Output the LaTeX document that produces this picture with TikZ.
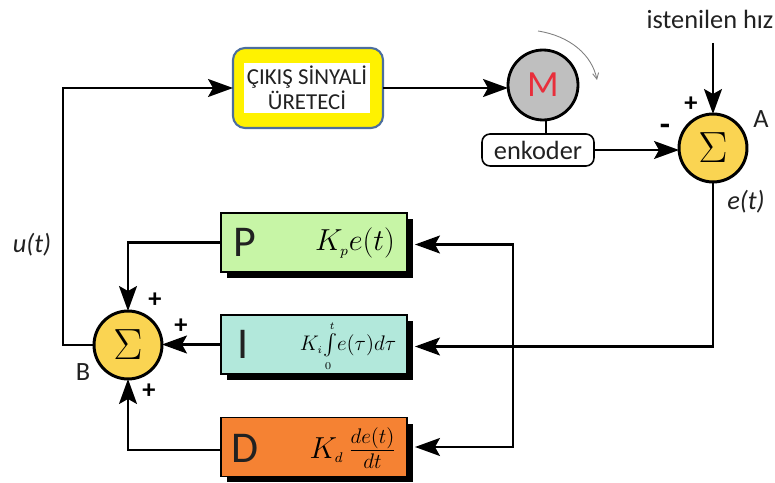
\documentclass[tikz,border=0pt]{standalone}
\usepackage{fontspec}
\setmainfont{Carlito}
\usepackage{amsmath}
\usetikzlibrary{arrows.meta,shadows}
\definecolor{SumClr}{rgb}{0.98,0.83,0.32}
\definecolor{MotorClr}{rgb}{0.75,0.75,0.75}
\definecolor{RedClr}{rgb}{0.91,0.18,0.23}
\definecolor{FrameClr}{rgb}{0.30,0.43,0.62}
\definecolor{PClr}{rgb}{0.78,0.96,0.65}
\definecolor{IClr}{rgb}{0.70,0.91,0.86}
\definecolor{DClr}{rgb}{0.96,0.51,0.20}
\definecolor{TextClr}{rgb}{0.13,0.13,0.13}
\newcommand{\Fs}[1]{\fontsize{#1}{#1}\selectfont}
\tikzset{
  wire/.style={line width=1.2pt,-{Stealth[length=0.5cm,width=0.36cm,inset=0.1cm]}},
  sumnode/.style={circle,draw=black,line width=1.7pt,fill=SumClr,minimum size=1.36cm,inner sep=0pt,outer sep=0pt,font=\Fs{24}},
  pidbox/.style={draw=black,line width=1pt,minimum width=3.72cm,minimum height=1.18cm,inner sep=0pt,outer sep=0pt,
    drop shadow={shadow xshift=0.12cm,shadow yshift=-0.12cm,opacity=1,fill=black}},
  pidletter/.style={font=\Fs{25},text=TextClr,inner sep=0pt},
  sign/.style={font=\bfseries\Fs{15},inner sep=0pt},
  lbl/.style={font=\Fs{15},text=TextClr,inner sep=0pt}
}
\begin{document}
\begin{tikzpicture}[x=0.02cm,y=-0.02cm]
\useasboundingbox (0,0) rectangle (775,483);

\node[draw=FrameClr,line width=1.2pt,fill=yellow,rounded corners=0.24cm,minimum width=3cm,minimum height=1.6cm,outer sep=0pt] (gen) at (308,88) {};
\node[fill=white,minimum width=2.52cm,minimum height=1cm,inner sep=0pt,align=center,font=\Fs{13},text=TextClr] (gentxt) at (307,88) {ÇIKIŞ SİNYALİ\\[1pt]ÜRETECİ};

\node[circle,draw=black,line width=1.6pt,fill=MotorClr,minimum size=1.4cm,inner sep=0pt,outer sep=0pt,text=RedClr,font=\Fs{21}] (M) at (543,85) {M};
\node[draw=black,line width=0.9pt,fill=white,rounded corners=0.16cm,minimum width=2.24cm,minimum height=0.64cm,inner sep=0pt,outer sep=0pt,lbl] (enk) at (538,150) {enkoder};

\node[sumnode] (A) at (713,148) {$\Sigma$};
\node[sumnode] (B) at (128,345) {$\Sigma$};

\node[pidbox,fill=PClr] (P) at (314,242.5) {};
\node[pidbox,fill=IClr] (I) at (314,344.5) {};
\node[pidbox,fill=DClr] (D) at (314,447) {};

\node[pidletter] (Pl) at (245,242) {P};
\node[pidletter] (Il) at (243,344) {I};
\node[pidletter] (Dl) at (245,448) {D};

\node[inner sep=0pt,font=\Fs{16.5}] (Pf) at (355,243) {$K_{\scriptscriptstyle p}e(t)$};
\node[inner sep=0pt,font=\Fs{12.5}] (If) at (348,346) {$K_{\scriptscriptstyle i}\!\int\limits_{\scriptscriptstyle 0}^{\scriptscriptstyle t}\! e(\tau)d\tau$};
\node[inner sep=0pt,font=\Fs{16.5}] (Df) at (353,448) {$K_{\scriptscriptstyle d}\,\frac{de(t)}{dt}$};

\node[lbl] (hiz) at (710,19) {istenilen hız};
\coordinate (hizend) at (713,43);
\node[lbl] (Alb) at (761,119) {A};
\node[lbl] (Blb) at (83,372) {B};
\node[lbl,font=\itshape\Fs{15}] (elb) at (746,202) {e(t)};
\node[lbl,font=\itshape\Fs{15}] (ulb) at (32,245) {u(t)};

\node[sign] (sa1) at (691,104) {+};
\node[sign,font=\bfseries\Fs{19}] (sa2) at (665,130) {-};
\node[sign] (sb1) at (155,300) {+};
\node[sign] (sb2) at (181,326) {+};
\node[sign] (sb3) at (149,391) {+};

\draw[wire] (gen.east) -- (gen.east -| M.west);
\draw[line width=0.8pt] ([xshift=0.06cm]M.south) -- ([xshift=0.06cm]M.south |- enk.north);
\draw[wire,line width=0.9pt] (enk.east) -- (enk.east -| A.west);
\draw[wire] (hizend) -- (A.north);
\draw[wire] (B.west) -- ++(-31,0) |- (gen.west);
\draw[wire] ([yshift=0.02cm]A.south) |- ([xshift=0.16cm,yshift=-0.04cm]I.east);
\coordinate (bus) at (513,346);
\draw[wire] (bus) |- ([xshift=0.16cm,yshift=-0.04cm]P.east);
\draw[wire] (bus) |- ([xshift=0.16cm]D.east);
\draw[wire] (P.west) -| (B.north);
\draw[wire] (I.west) -- (I.west -| B.east);
\draw[wire] ([yshift=-0.06cm]D.west) -| (B.south);

\coordinate (rota) at (538,31);
\coordinate (rotb) at (597,80);
\draw[gray,line width=0.5pt,-{Straight Barb[length=0.12cm,width=0.12cm]}] (rota) .. controls (570,36) and (592,55) .. (rotb);
\end{tikzpicture}
\end{document}
